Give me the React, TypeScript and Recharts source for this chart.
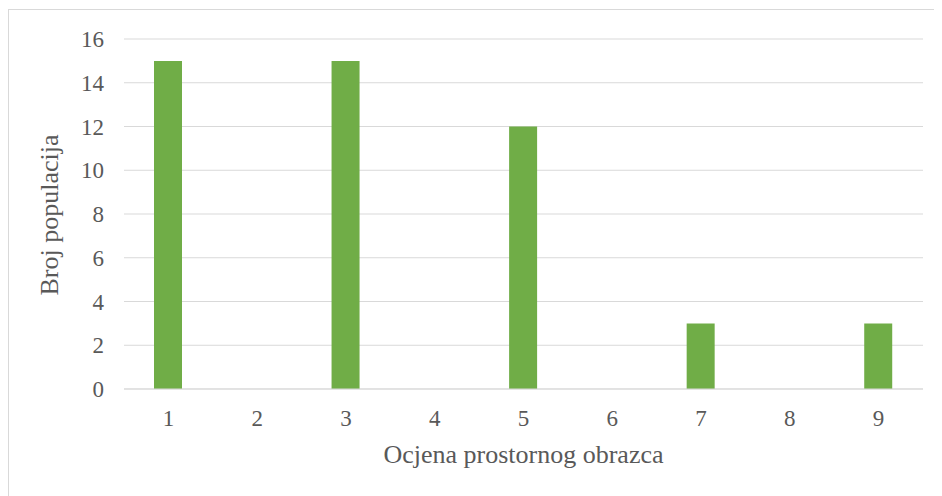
import { Bar, BarChart, CartesianGrid, XAxis, YAxis, Label } from "recharts";

const categories = ["1", "2", "3", "4", "5", "6", "7", "8", "9"];
const counts = [15, 0, 15, 0, 12, 0, 3, 0, 3];
const yTicks = [0, 2, 4, 6, 8, 10, 12, 14, 16];

const data = categories.map((name, i) => ({ name, value: counts[i] }));

const textColor = "#595959";
const gridColor = "#d9d9d9";
const font = '"Liberation Serif", "Times New Roman", serif';

export default function App() {
	return (
		<div
			style={{
				position: "relative",
				top: 1,
				width: 934,
				height: 487,
				borderTop: `1px solid ${gridColor}`,
				borderLeft: `1px solid ${gridColor}`,
				background: "#fff",
				overflow: "hidden",
			}}
		>
			<BarChart
				width={933}
				height={486}
				data={data}
				margin={{ top: 29, right: 19, bottom: 0, left: 0 }}
				style={{ fontFamily: font }}
			>
				<CartesianGrid vertical={false} stroke={gridColor} strokeWidth={1} />
				<XAxis
					dataKey="name"
					height={107}
					tickLine={false}
					tickSize={0}
					tickMargin={21}
					axisLine={{ stroke: gridColor }}
					tick={{ fill: textColor, fontSize: 23, fontFamily: font }}
				>
					<Label
						content={({ viewBox }: any) => (
							<text
								x={viewBox.x + viewBox.width / 2}
								y={453}
								textAnchor="middle"
								fill={textColor}
								fontSize={26}
								fontFamily={font}
							>
								Ocjena prostornog obrazca
							</text>
						)}
					/>
				</XAxis>
				<YAxis
					width={115}
					domain={[0, 16]}
					ticks={yTicks}
					interval={0}
					axisLine={false}
					tickLine={false}
					tickSize={0}
					tickMargin={20}
					tick={{ fill: textColor, fontSize: 23, fontFamily: font }}
				>
					<Label
						content={({ viewBox }: any) => {
							const cx = 49;
							const cy = viewBox.y + viewBox.height / 2 + 1;
							return (
								<text
									x={cx}
									y={cy}
									transform={`rotate(-90, ${cx}, ${cy})`}
									textAnchor="middle"
									fill={textColor}
									fontSize={26}
									fontFamily={font}
								>
									Broj populacija
								</text>
							);
						}}
					/>
				</YAxis>
				<Bar dataKey="value" fill="#70ad47" barSize={28} isAnimationActive={false} />
			</BarChart>
		</div>
	);
}
